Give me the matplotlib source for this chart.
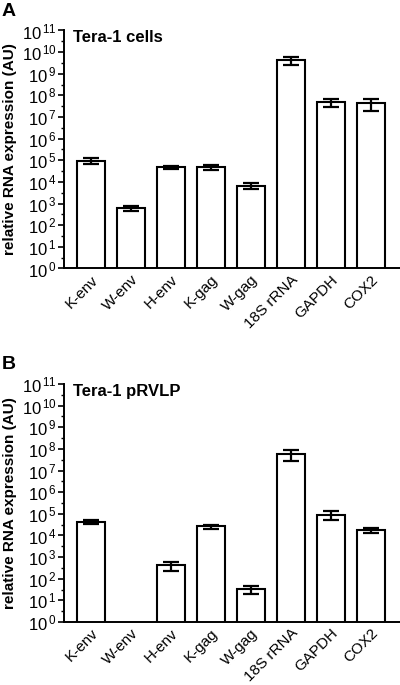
import numpy as np
import matplotlib
matplotlib.use("Agg")
import matplotlib.pyplot as plt
from matplotlib.ticker import FixedLocator, FuncFormatter

plt.rcParams['font.family'] = ['Liberation Sans', 'DejaVu Sans']
plt.rcParams['mathtext.fontset'] = 'custom'
plt.rcParams['mathtext.rm'] = 'Liberation Sans'
plt.rcParams['mathtext.it'] = 'Liberation Sans:italic'
plt.rcParams['mathtext.bf'] = 'Liberation Sans:bold'

categories = ["K-env", "W-env", "H-env", "K-gag", "W-gag", "18S rRNA", "GAPDH", "COX2"]

# Panel A: Tera-1 cells
means_a = [9.6e4, 620, 4.7e4, 4.9e4, 6.5e3, 4.3e9, 4.8e7, 4.3e7]
sem_a = [2.8e4, 160, 8e3, 1.2e4, 2.0e3, 1.8e9, 1.8e7, 2.3e7]

# Panel B: Tera-1 pRVLP (W-env not detected)
means_b = [4.4e4, np.nan, 420, 2.6e4, 32, 5.9e7, 9.3e4, 1.8e4]
sem_b = [9e3, np.nan, 200, 6e3, 13, 3e7, 4e4, 4.8e3]

titles = ["Tera-1 cells", "Tera-1 pRVLP"]
letters = ["A", "B"]
ylabel = "relative RNA expression (AU)"

fig = plt.figure(figsize=(4.0, 6.85), dpi=100)
W, H = 400.0, 685.0
# pixel geometry: (left, top, right, bottom)
boxes = [(64, 30.5, 400, 268.5), (64, 384, 400, 622)]

for i, (means, sems) in enumerate([(means_a, sem_a), (means_b, sem_b)]):
    l, t, r, b = boxes[i]
    ax = fig.add_axes([l / W, 1 - b / H, (r - l) / W, (b - t) / H])
    x = np.arange(len(categories))
    m = np.array(means, dtype=float)
    s = np.array(sems, dtype=float)
    ax.bar(x, m, width=0.68, color='white', edgecolor='black', linewidth=1.5,
           bottom=0, zorder=2)
    ax.errorbar(x, m, yerr=s, fmt='none', ecolor='black', elinewidth=1.6,
                capsize=5.8, capthick=1.6, zorder=3)
    ax.set_yscale('log')
    ax.set_ylim(1, 1e11)
    ax.set_xlim(-0.675, len(categories) - 0.275)
    ax.yaxis.set_major_locator(FixedLocator([10.0 ** k for k in range(12)]))
    ax.yaxis.set_minor_locator(FixedLocator([10.0 ** (k + 0.5) for k in range(11)]))
    ax.yaxis.set_major_formatter(FuncFormatter(
        lambda v, p: r"$\mathregular{10^{\,%d}}$" % int(round(np.log10(v)))))
    ax.yaxis.set_minor_formatter(FuncFormatter(lambda v, p: ""))
    ax.tick_params(axis='y', which='major', length=4.5, width=1.2, labelsize=12, pad=1)
    ax.tick_params(axis='y', which='minor', length=2.5, width=1.0)
    ax.tick_params(axis='x', length=0, labelsize=11, pad=3)
    ax.set_xticks(x)
    ax.set_xticklabels(categories, rotation=45, ha='right', rotation_mode='anchor')
    for sp in ['top', 'right']:
        ax.spines[sp].set_visible(False)
    for sp in ['left', 'bottom']:
        ax.spines[sp].set_linewidth(1.4)
    ax.set_ylabel(ylabel, fontsize=11, fontweight='bold', labelpad=3)
    ax.text(0.027, 1.0, titles[i], transform=ax.transAxes, fontsize=12,
            fontweight='bold', va='top', ha='left')
    fig.text(2 / W, 1 - (t - 28) / H, letters[i], fontsize=14, fontweight='bold',
             va='top', ha='left')

fig.savefig("out.png", dpi=100)
